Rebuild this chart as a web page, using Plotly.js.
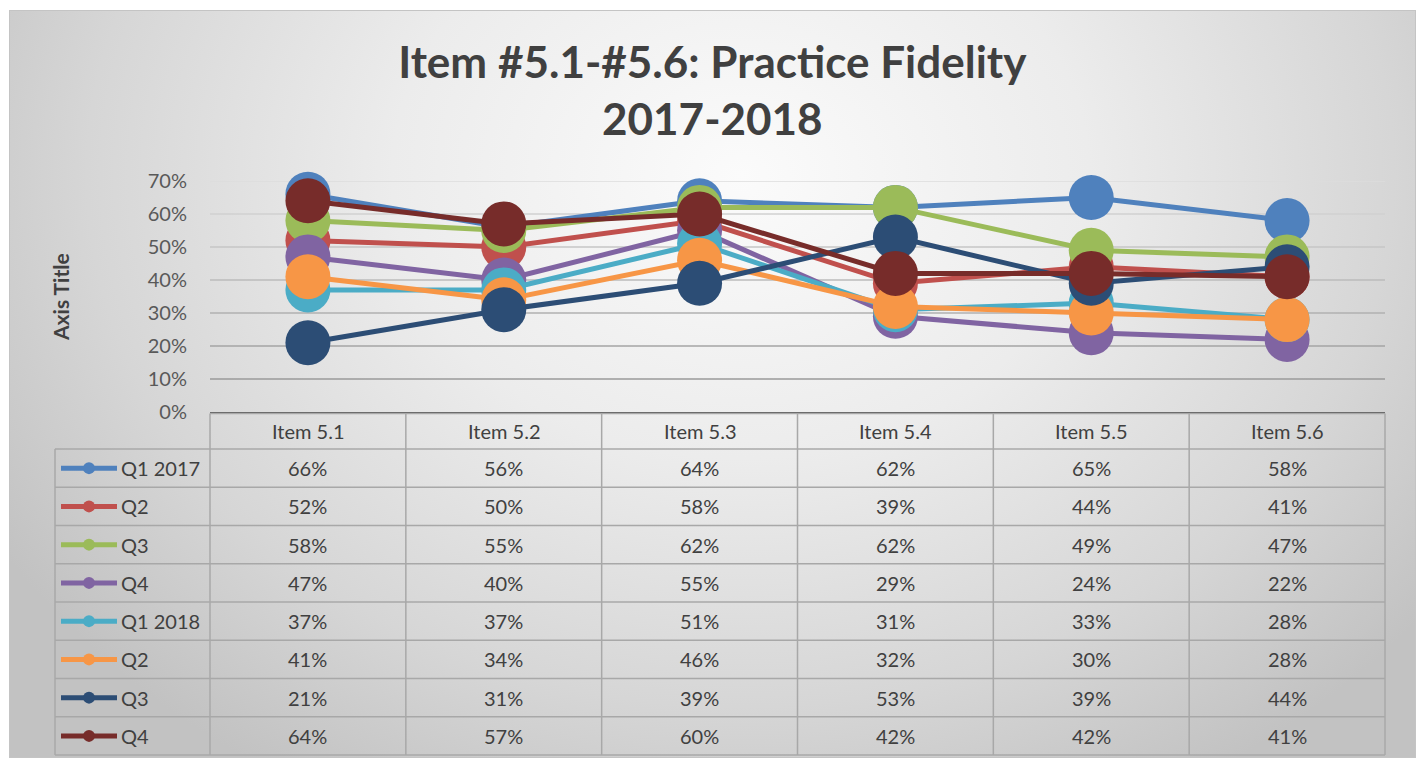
<!DOCTYPE html>
<html>
<head>
<meta charset="utf-8">
<script src="https://cdn.plot.ly/plotly-3.0.1.min.js"></script>
<style>
  html, body { margin: 0; padding: 0; background: #ffffff; }
  #frame {
    position: absolute; left: 9px; top: 10px; width: 1405px; height: 746px;
    border: 1px solid #c4c4c4;
    background: radial-gradient(ellipse 62% 95% at 52% 22%, #fbfbfb 0%, #ececec 40%, #d6d6d6 75%, #c2c2c2 100%);
  }
  #chart { position: absolute; left: 0; top: 0; width: 1419px; height: 761px; }
</style>
</head>
<body>
<div id="frame"></div>
<div id="chart"></div>
<script>
// ---- data ----
const categories = ["Item 5.1", "Item 5.2", "Item 5.3", "Item 5.4", "Item 5.5", "Item 5.6"];
const seriesNames = ["Q1 2017", "Q2", "Q3", "Q4", "Q1 2018", "Q2", "Q3", "Q4"];
const q1_2017 = [0.66, 0.56, 0.64, 0.62, 0.65, 0.58];
const q2_2017 = [0.52, 0.50, 0.58, 0.39, 0.44, 0.41];
const q3_2017 = [0.58, 0.55, 0.62, 0.62, 0.49, 0.47];
const q4_2017 = [0.47, 0.40, 0.55, 0.29, 0.24, 0.22];
const q1_2018 = [0.37, 0.37, 0.51, 0.31, 0.33, 0.28];
const q2_2018 = [0.41, 0.34, 0.46, 0.32, 0.30, 0.28];
const q3_2018 = [0.21, 0.31, 0.39, 0.53, 0.39, 0.44];
const q4_2018 = [0.64, 0.57, 0.60, 0.42, 0.42, 0.41];
const seriesValues = [q1_2017, q2_2017, q3_2017, q4_2017, q1_2018, q2_2018, q3_2018, q4_2018];
const yTicks = [0, 0.1, 0.2, 0.3, 0.4, 0.5, 0.6, 0.7];

// ---- style ----
const colors = ["#4F81BD", "#C0504D", "#9BBB59", "#8064A2", "#4BACC6", "#F79646", "#2C4D75", "#772C2A"];
const FONT = 'Lato, "Open Sans", sans-serif';
const TEXT = "#404040";
const W = 1419, H = 761;
const M = { l: 210, r: 34, t: 181, b: 349 };
const PW = W - M.l - M.r, PH = H - M.t - M.b;
const pxX = px => (px - M.l) / PW;          // pixel -> paper x
const pxY = py => (H - M.b - py) / PH;      // pixel -> paper y

const traces = seriesValues.map((vals, i) => ({
  type: "scatter", mode: "lines+markers",
  x: categories, y: vals, name: seriesNames[i],
  line: { color: colors[i], width: 5 },
  marker: { color: colors[i], size: 45 },
  showlegend: false, hoverinfo: "skip", cliponaxis: false
}));

const shapes = [];
const annotations = [];

// gridlines (graded grey like the original)
yTicks.forEach((v) => {
  if (v === 0) return;
  const t = (v - 0.1) / 0.6; // 0 at 10%, 1 at 70%
  const c = Math.round(0x9a + t * (0xdc - 0x9a));
  shapes.push({ type: "line", xref: "paper", yref: "y", x0: 0, x1: 1, y0: v, y1: v,
    line: { color: `rgb(${c},${c},${c})`, width: 1.6 }, layer: "below" });
});

// data table geometry
const headerTop = 412, headerBot = 449, rowH = 38.25;
const legendLeft = 55;
const nRows = seriesValues.length;
const tableBot = headerBot + rowH * nRows;
const gridLine = { color: "#a8a8a8", width: 1.5 };
const cellFont = { family: FONT, size: 20, color: TEXT };

// header row top border
shapes.push({ type: "line", xref: "paper", yref: "paper", x0: 0, x1: 1,
  y0: pxY(headerTop + 1.5), y1: pxY(headerTop + 1.5), line: gridLine });
// horizontal row lines
for (let k = 0; k <= nRows; k++) {
  const py = headerBot + rowH * k;
  shapes.push({ type: "line", xref: "paper", yref: "paper", x0: pxX(legendLeft), x1: 1,
    y0: pxY(py), y1: pxY(py), line: gridLine });
}
// vertical lines
shapes.push({ type: "line", xref: "paper", yref: "paper", x0: pxX(legendLeft), x1: pxX(legendLeft),
  y0: pxY(headerBot), y1: pxY(tableBot), line: gridLine });
for (let k = 0; k <= categories.length; k++) {
  const x = k / categories.length;
  shapes.push({ type: "line", xref: "paper", yref: "paper", x0: x, x1: x,
    y0: pxY(headerTop + 1.5), y1: pxY(tableBot), line: gridLine });
}

// header labels
categories.forEach((c, j) => {
  annotations.push({ xref: "paper", yref: "paper", x: (j + 0.5) / categories.length,
    y: pxY((headerTop + headerBot) / 2), text: c, showarrow: false,
    xanchor: "center", yanchor: "middle", font: cellFont });
});

// data rows + legend keys
seriesValues.forEach((vals, i) => {
  const cy = headerBot + rowH * (i + 0.5);
  vals.forEach((v, j) => {
    annotations.push({ xref: "paper", yref: "paper", x: (j + 0.5) / categories.length,
      y: pxY(cy), text: Math.round(v * 100) + "%", showarrow: false,
      xanchor: "center", yanchor: "middle", font: cellFont });
  });
  shapes.push({ type: "line", xref: "paper", yref: "paper", x0: pxX(61), x1: pxX(117),
    y0: pxY(cy), y1: pxY(cy), line: { color: colors[i], width: 5 } });
  shapes.push({ type: "circle", xref: "paper", yref: "paper",
    x0: pxX(89 - 6), x1: pxX(89 + 6), y0: pxY(cy + 6), y1: pxY(cy - 6),
    fillcolor: colors[i], line: { width: 0 } });
  annotations.push({ xref: "paper", yref: "paper", x: pxX(119), y: pxY(cy),
    text: seriesNames[i], showarrow: false, xanchor: "left", yanchor: "middle",
    font: cellFont });
});

// y axis title
annotations.push({ xref: "paper", yref: "paper", x: pxX(60), y: pxY(297), text: "<b>Axis Title</b>",
  textangle: -90, showarrow: false, xanchor: "center", yanchor: "middle",
  font: { family: FONT, size: 21, color: TEXT } });

const layout = {
  width: W, height: H,
  margin: M,
  paper_bgcolor: "rgba(0,0,0,0)", plot_bgcolor: "rgba(0,0,0,0)",
  title: {
    text: "<b>Item #5.1-#5.6: Practice Fidelity<br>2017-2018</b>",
    xref: "container", x: 0.502, xanchor: "center",
    yref: "container", y: 1 - 78 / H, yanchor: "top",
    font: { family: FONT, size: 44, color: TEXT }
  },
  xaxis: {
    type: "category", range: [-0.5, categories.length - 0.5],
    showticklabels: false, showgrid: false, zeroline: false,
    showline: true, linecolor: "#595959", linewidth: 1.2, ticks: ""
  },
  yaxis: {
    range: [0, 0.7], tickvals: yTicks, tickformat: ".0%",
    showgrid: false, zeroline: false, showline: false, ticks: "",
    ticklabelstandoff: 22,
    tickfont: { family: FONT, size: 20, color: "#595959" }
  },
  shapes: shapes,
  annotations: annotations,
  showlegend: false
};

Plotly.newPlot("chart", traces, layout, { staticPlot: true, displayModeBar: false });
</script>
</body>
</html>
